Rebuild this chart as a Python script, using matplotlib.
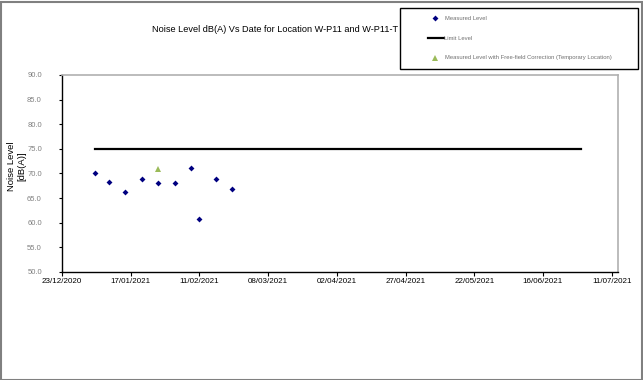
import matplotlib
matplotlib.use("Agg")
import matplotlib.pyplot as plt
import matplotlib.dates as mdates
from matplotlib.lines import Line2D
from matplotlib.patches import Rectangle
import numpy as np
import datetime as dt

# ---- data ----
measured_dates = ["2021-01-04", "2021-01-09", "2021-01-15", "2021-01-21", "2021-01-27",
                  "2021-02-02", "2021-02-08", "2021-02-11", "2021-02-17", "2021-02-23"]
measured_levels = [70.0, 68.3, 66.2, 68.9, 68.0, 68.0, 71.2, 60.7, 68.9, 66.8]
limit_dates = ["2021-01-04", "2021-06-30"]
limit_levels = [75.0, 75.0]
corrected_dates = ["2021-01-27"]
corrected_levels = [70.9]
xtick_dates = ["2020-12-23", "2021-01-17", "2021-02-11", "2021-03-08", "2021-04-02",
               "2021-04-27", "2021-05-22", "2021-06-16", "2021-07-11"]
yticks = [50, 55, 60, 65, 70, 75, 80, 85, 90]

title = "Noise Level dB(A) Vs Date for Location W-P11 and W-P11-T"
ylabel = "Noise Level\n[dB(A)]"
legend_labels = ["Measured Level", "Limit Level",
                 "Measured Level with Free-field Correction (Temporary Location)"]

def to_dt(lst):
    return [dt.datetime.strptime(s, "%Y-%m-%d") for s in lst]

plt.rcParams['font.family'] = ['Liberation Sans', 'DejaVu Sans']

W, H = 643, 380
fig = plt.figure(figsize=(W / 100, H / 100), dpi=100)

def px(x0, y0, x1, y1):
    return [x0 / W, 1 - y1 / H, (x1 - x0) / W, (y1 - y0) / H]

ax = fig.add_axes(px(62, 75, 618, 272))

l_meas, = ax.plot(to_dt(measured_dates), measured_levels, linestyle='none', marker='D',
                  markersize=3, color='#000080', markeredgewidth=0)
l_lim, = ax.plot(to_dt(limit_dates), limit_levels, color='black', linewidth=1.6)
l_corr, = ax.plot(to_dt(corrected_dates), corrected_levels, linestyle='none', marker='^',
                  markersize=5, color='#9bbb59', markeredgewidth=0)

xt = to_dt(xtick_dates)
ax.set_xlim(mdates.date2num(xt[0]), mdates.date2num(xt[0]) + 202.3)
ax.set_ylim(50, 90)
ax.set_xticks(xt)
ax.xaxis.set_major_formatter(mdates.DateFormatter("%d/%m/%Y"))
ax.set_yticks(yticks)
ax.set_yticklabels([f"{v:.1f}" for v in yticks])

for s in ['top', 'right']:
    ax.spines[s].set_color('#b0b0b0')
    ax.spines[s].set_linewidth(1.2)
for s in ['left', 'bottom']:
    ax.spines[s].set_color('black')
    ax.spines[s].set_linewidth(1.0)

ax.tick_params(axis='y', direction='out', length=2.5, width=0.8, pad=12,
               labelsize=5.5, labelcolor='#808080')
ax.tick_params(axis='x', direction='out', length=3, width=0.8, pad=1.5,
               labelsize=5.8, labelcolor='black')

fig.text(16.5 / W, 1 - 166 / H, ylabel, rotation=90, ha='center', va='center',
         fontsize=6.8, linespacing=1.25, multialignment='center')

fig.text(275 / W, 1 - 30 / H, title, ha='center', va='center', fontsize=6.6)

# legend box (manual layout)
fig.patches.append(Rectangle((400 / W, 1 - 69 / H), (638 - 400) / W, (69 - 8) / H,
                             transform=fig.transFigure, fill=False, edgecolor='black',
                             linewidth=1.0))
leg_y = [18, 38, 58]
fig.lines.append(Line2D([435 / W], [1 - leg_y[0] / H], transform=fig.transFigure,
                        marker='D', markersize=3, color='#000080', markeredgewidth=0,
                        linestyle='none'))
fig.lines.append(Line2D([428 / W, 444 / W], [1 - leg_y[1] / H] * 2, transform=fig.transFigure,
                        color='black', linewidth=1.6))
fig.lines.append(Line2D([435 / W], [1 - leg_y[2] / H], transform=fig.transFigure,
                        marker='^', markersize=4, color='#9bbb59', markeredgewidth=0,
                        linestyle='none'))
for i, lab in enumerate(legend_labels):
    xoff = 444 if i == 1 else 445
    fig.text(xoff / W, 1 - leg_y[i] / H, lab, ha='left', va='center', fontsize=4.2,
             color='#707070')

# outer border
fig.patches.append(Rectangle((0.5 / W, 0.5 / H), (W - 2) / W, (H - 2) / H,
                             transform=fig.transFigure, fill=False, edgecolor='#808080',
                             linewidth=1.5))

fig.savefig("out.png", dpi=100)
